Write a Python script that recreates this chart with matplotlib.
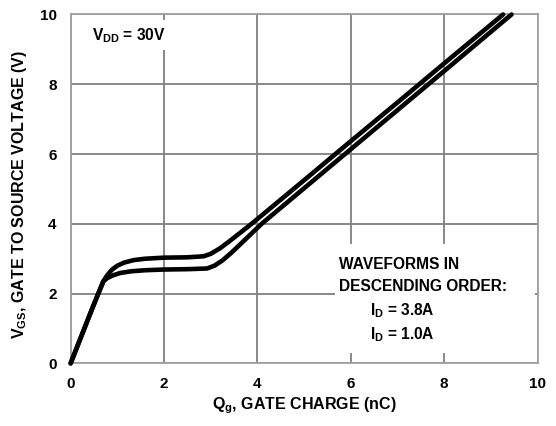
import matplotlib
matplotlib.use("Agg")
import matplotlib.pyplot as plt
from matplotlib.patches import Rectangle

# ---- data ----
qg_hi = [0.0, 0.48, 0.70, 0.78, 0.88, 1.00, 1.15, 1.35, 1.60, 2.00, 2.50, 2.85, 3.00, 3.20, 3.40, 3.875, 5.00, 6.00, 7.00, 8.00, 9.26]
vgs_hi = [0.0, 1.63, 2.35, 2.52, 2.68, 2.80, 2.89, 2.96, 3.00, 3.03, 3.04, 3.07, 3.14, 3.30, 3.50, 4.00, 5.25, 6.37, 7.48, 8.60, 10.0]
qg_lo = [0.0, 0.48, 0.70, 0.78, 0.90, 1.06, 1.30, 1.60, 2.00, 2.50, 2.92, 3.08, 3.25, 3.45, 4.09, 5.00, 6.00, 7.00, 8.00, 9.44]
vgs_lo = [0.0, 1.63, 2.35, 2.44, 2.52, 2.59, 2.64, 2.67, 2.69, 2.70, 2.72, 2.80, 2.95, 3.18, 4.00, 5.02, 6.14, 7.26, 8.38, 10.0]
xticks = [0, 2, 4, 6, 8, 10]
yticks = [0, 2, 4, 6, 8, 10]

plt.rcParams['font.family'] = ['Liberation Sans', 'DejaVu Sans']
plt.rcParams['font.weight'] = 'bold'
plt.rcParams['mathtext.fontset'] = 'custom'
plt.rcParams['mathtext.rm'] = 'Liberation Sans:bold'
plt.rcParams['mathtext.it'] = 'Liberation Sans:bold'
plt.rcParams['mathtext.bf'] = 'Liberation Sans:bold'
plt.rcParams['mathtext.default'] = 'rm'

fig = plt.figure(figsize=(5.56, 4.26), dpi=100)
ax = fig.add_axes([0.127, 0.147, 0.840, 0.819])
ax.set_xlim(0, 10)
ax.set_ylim(0, 10)
ax.set_xticks(xticks)
ax.set_yticks(yticks)
ax.tick_params(length=0, pad=10, labelsize=11)
for lab in ax.get_xticklabels() + ax.get_yticklabels():
    lab.set_fontweight('bold')
ax.set_axisbelow(True)
ax.grid(True, color='#808080', linewidth=1.3)
for s in ax.spines.values():
    s.set_color('#a0a0a0')
    s.set_linewidth(1.3)

ax.plot(qg_hi, vgs_hi, color='black', linewidth=3.3, solid_capstyle='round', solid_joinstyle='round', zorder=3, clip_on=False)
ax.plot(qg_lo, vgs_lo, color='black', linewidth=3.3, solid_capstyle='round', solid_joinstyle='round', zorder=3, clip_on=False)

# white backgrounds behind annotations
ax.add_patch(Rectangle((0.30, 8.97), 1.90, 0.86, facecolor='white', edgecolor='none', zorder=1))
ax.add_patch(Rectangle((5.66, 0.30), 4.28, 3.11, facecolor='white', edgecolor='none', zorder=1))

fs = 11.2
ax.text(0.46, 9.4, r'V$_{\mathrm{DD}}$ = 30V', fontsize=fs, fontweight='bold', va='center', ha='left', zorder=4)
ax.text(5.75, 2.83, 'WAVEFORMS IN', fontsize=fs, fontweight='bold', va='center', ha='left', zorder=4)
ax.text(5.75, 2.20, 'DESCENDING ORDER:', fontsize=fs, fontweight='bold', va='center', ha='left', zorder=4)
ax.text(6.41, 1.51, r'I$_{\mathrm{D}}$ = 3.8A', fontsize=fs, fontweight='bold', va='center', ha='left', zorder=4)
ax.text(6.41, 0.81, r'I$_{\mathrm{D}}$ = 1.0A', fontsize=fs, fontweight='bold', va='center', ha='left', zorder=4)

ax.set_xlabel(r'Q$_{\mathrm{g}}$, GATE CHARGE (nC)', fontsize=11.5, fontweight='bold', va='center')
ax.set_ylabel(r'V$_{\mathrm{GS}}$, GATE TO SOURCE VOLTAGE (V)', fontsize=11.5, fontweight='bold', va='center')
ax.xaxis.set_label_coords(0.5, -0.12)
ax.yaxis.set_label_coords(-0.1086, 0.483)

fig.savefig('out.png', dpi=100)
